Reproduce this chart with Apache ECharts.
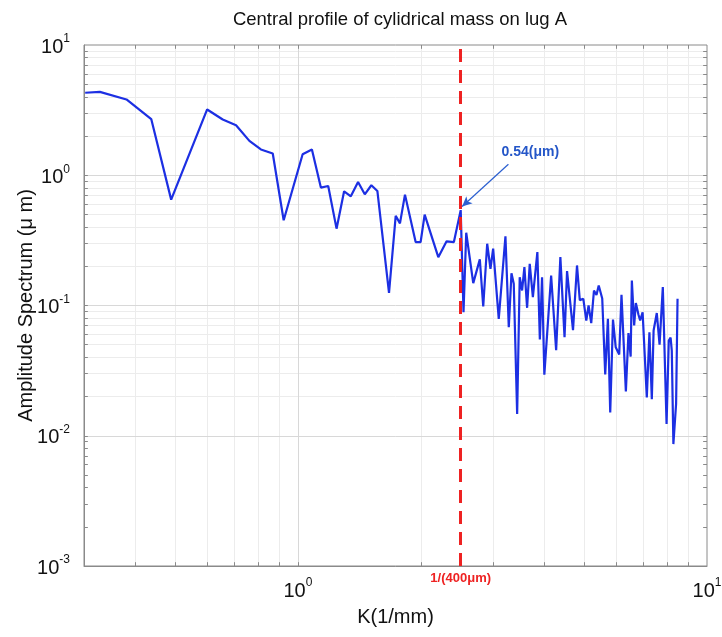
<!DOCTYPE html>
<html><head><meta charset="utf-8">
<script src="https://cdn.jsdelivr.net/npm/echarts@6/dist/echarts.min.js"></script>
<style>html,body{margin:0;padding:0;background:#fff}#c{width:722px;height:637px}</style>
</head><body><div id="c"></div>
<script>
const titleText = 'Central profile of cylidrical mass on lug A';
const xName = 'K(1/mm)';
const yName = 'Amplitude Spectrum (\u03bc m)';
const kValues = [0.302,0.328,0.381,0.438,0.490,0.600,0.655,0.706,0.761,0.812,0.868,0.923,1.027,1.082,1.138,1.186,1.243,1.297,1.347,1.403,1.457,1.512,1.564,1.670,1.734,1.776,1.827,1.940,1.995,2.041,2.204,2.309,2.406,2.5,2.54,2.579,2.683,2.784,2.838,2.902,2.956,3.001,3.097,3.216,3.277,3.327,3.370,3.435,3.485,3.532,3.578,3.633,3.687,3.753,3.849,3.903,3.952,4.003,4.159,4.278,4.381,4.485,4.549,4.704,4.811,4.887,4.985,5.069,5.135,5.212,5.293,5.368,5.437,5.545,5.639,5.725,5.800,5.891,5.982,6.101,6.180,6.334,6.427,6.507,6.551,6.637,6.700,6.798,6.864,6.960,7.126,7.232,7.330,7.404,7.538,7.657,7.798,7.965,8.064,8.147,8.202,8.276,8.403,8.472];
const ampValues = [4.30,4.37,3.82,2.70,0.650,3.20,2.68,2.42,1.836,1.577,1.469,0.451,1.450,1.577,0.804,0.827,0.389,0.753,0.689,0.888,0.714,0.838,0.757,0.125,0.488,0.427,0.710,0.307,0.307,0.499,0.235,0.311,0.307,0.54,0.0888,0.362,0.1485,0.226,0.0983,0.298,0.1915,0.273,0.079,0.340,0.0681,0.177,0.1469,0.01469,0.165,0.1304,0.197,0.096,0.209,0.1158,0.257,0.0548,0.165,0.02945,0.170,0.0453,0.235,0.057,0.1836,0.0646,0.203,0.110,0.1126,0.0767,0.100,0.0733,0.1304,0.1205,0.1425,0.1132,0.0295,0.079,0.0151,0.078,0.0478,0.042,0.121,0.0219,0.0614,0.0405,0.1557,0.0702,0.1045,0.0853,0.0767,0.0888,0.0197,0.0623,0.0191,0.0642,0.0876,0.0501,0.1388,0.0123,0.0538,0.0567,0.0451,0.00863,0.01754,0.1126];
const xRange = [0.3, 10];
const yRange = [0.001, 10];
const xMinorTicks = [0.4,0.5,0.6,0.7,0.8,0.9,2,3,4,5,6,7,8,9];
const yMinorTicks = [0.002,0.003,0.004,0.005,0.006,0.007,0.008,0.009,0.02,0.03,0.04,0.05,0.06,0.07,0.08,0.09,0.2,0.3,0.4,0.5,0.6,0.7,0.8,0.9,2,3,4,5,6,7,8,9];
const xMajorTicks = [1];
const yMajorTicks = [0.01,0.1,1];
const cutoffK = 2.5;
const cutoffLabel = '1/(400\u03bcm)';
const peakLabel = '0.54(\u03bcm)';
const arrowStart = [3.27, 1.215];
const arrowEnd = [2.52, 0.575];
const peakLabelAt = [3.70, 1.50];

const FONT = 'Liberation Sans, Arial, Helvetica, sans-serif';
const n = Math.min(kValues.length, ampValues.length);
const lineData = [];
for (let i = 0; i < n; i++) lineData.push([kValues[i], ampValues[i]]);

function powLabel(v) {
  const l = Math.log10(v);
  const e = Math.round(l);
  if (Math.abs(l - e) > 1e-6) return '';
  return '{b|10}{s|' + e + '}';
}
const richLabel = {
  b: {fontSize: 20, lineHeight: 24, verticalAlign: 'bottom', color: '#111', fontFamily: FONT},
  s: {fontSize: 12, lineHeight: 14, verticalAlign: 'top', color: '#111', fontFamily: FONT}
};

const gridLines = [];
xMinorTicks.forEach(v => gridLines.push({xAxis: v, lineStyle: {color: '#ececec', width: 1, type: 'solid'}}));
yMinorTicks.forEach(v => gridLines.push({yAxis: v, lineStyle: {color: '#ececec', width: 1, type: 'solid'}}));
xMajorTicks.forEach(v => gridLines.push({xAxis: v, lineStyle: {color: '#d8d8d8', width: 1, type: 'solid'}}));
yMajorTicks.forEach(v => gridLines.push({yAxis: v, lineStyle: {color: '#d8d8d8', width: 1, type: 'solid'}}));

// small inward tick marks on all four sides of the box
const tickX = 1.022, tickY = 1.07;
const tickSegs = [];
xMinorTicks.concat(xMajorTicks).forEach(v => {
  tickSegs.push([{coord: [v, yRange[0]]}, {coord: [v, yRange[0] * tickY]}]);
  tickSegs.push([{coord: [v, yRange[1]]}, {coord: [v, yRange[1] / tickY]}]);
});
yMinorTicks.concat(yMajorTicks).forEach(v => {
  tickSegs.push([{coord: [xRange[0], v]}, {coord: [xRange[0] * tickX, v]}]);
  tickSegs.push([{coord: [xRange[1], v]}, {coord: [xRange[1] / tickX, v]}]);
});

const chart = echarts.init(document.getElementById('c'), null, {renderer: 'canvas'});
chart.setOption({
  animation: false,
  backgroundColor: '#fff',
  title: {
    text: titleText, left: 395, top: 5, textAlign: 'center',
    textStyle: {fontSize: 18.5, fontWeight: 'normal', color: '#111', fontFamily: FONT}
  },
  grid: {left: 84, right: 15, top: 45, bottom: 71, show: true, borderColor: '#8a8a8a', borderWidth: 1, backgroundColor: '#fff', outerBoundsMode: 'none', containLabel: false},
  xAxis: {
    type: 'log', logBase: 10, min: xRange[0], max: xRange[1],
    name: xName, nameLocation: 'middle', nameGap: 41, nameMoveOverlap: false,
    nameTextStyle: {fontSize: 20, color: '#111', fontFamily: FONT},
    axisLine: {show: true, lineStyle: {color: '#8a8a8a'}},
    axisTick: {show: false},
    splitLine: {show: false},
    axisLabel: {formatter: powLabel, rich: richLabel, margin: 11, showMinLabel: true, showMaxLabel: true, hideOverlap: false}
  },
  yAxis: {
    type: 'log', logBase: 10, min: yRange[0], max: yRange[1],
    name: yName, nameLocation: 'middle', nameGap: 48, nameMoveOverlap: false,
    nameTextStyle: {fontSize: 20, color: '#111', fontFamily: FONT},
    axisLine: {show: true, lineStyle: {color: '#8a8a8a'}},
    axisTick: {show: false},
    splitLine: {show: false},
    axisLabel: {formatter: powLabel, rich: richLabel, margin: 14, showMinLabel: true, showMaxLabel: true, hideOverlap: false}
  },
  series: [
    {
      type: 'line', data: [], silent: true, z: 1,
      markLine: {silent: true, z: 1, symbol: ['none', 'none'], label: {show: false}, animation: false, data: gridLines}
    },
    {
      type: 'line', data: [], silent: true, z: 2,
      markLine: {silent: true, z: 2, symbol: ['none', 'none'], label: {show: false}, animation: false,
        lineStyle: {color: '#8a8a8a', width: 1, type: 'solid'}, data: tickSegs}
    },
    {
      type: 'line', data: lineData, z: 3, symbol: 'none', smooth: false,
      lineStyle: {color: '#1c2fe3', width: 2.2, type: 'solid'}, itemStyle: {color: '#1c2fe3'}
    },
    {
      type: 'line', data: [], z: 4, silent: true,
      markLine: {
        silent: true, z: 4, symbol: ['none', 'none'], animation: false,
        lineStyle: {color: '#ee2222', width: 3, type: [13, 8]},
        label: {show: true, position: 'start', formatter: cutoffLabel, color: '#ee2222', fontWeight: 'bold', fontSize: 13, fontFamily: FONT, distance: 6},
        data: [{xAxis: cutoffK}]
      }
    },
    {
      type: 'line', data: [], z: 5, silent: true,
      markLine: {
        silent: true, z: 5, animation: false, symbol: ['none', 'arrow'], symbolSize: [7, 10],
        label: {show: false},
        data: [[{coord: arrowStart}, {coord: arrowEnd}]],
        lineStyle: {color: '#2b5fd0', width: 1.2, type: 'solid'}
      },
      markPoint: {
        silent: true, z: 5, animation: false, symbol: 'rect', symbolSize: 1,
        itemStyle: {color: 'rgba(0,0,0,0)'},
        data: [{coord: peakLabelAt, label: {show: true, position: 'inside', formatter: peakLabel, color: '#2456c8', fontWeight: 'bold', fontSize: 14, fontFamily: FONT}}]
      }
    }
  ]
});
</script></body></html>
